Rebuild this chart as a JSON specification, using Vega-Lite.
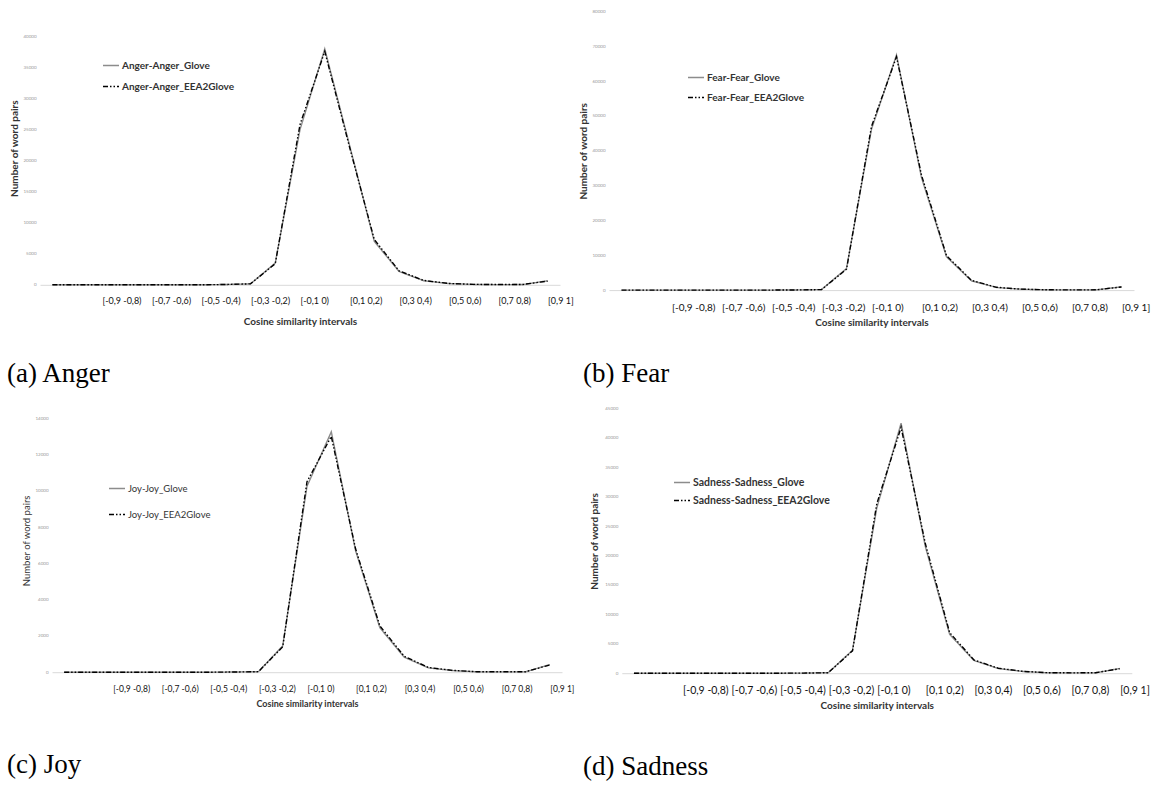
{
"$schema": "https://vega.github.io/schema/vega-lite/v6.json",
"autosize": {"type": "pad"},
"padding": {"left": 7, "top": 8.5, "right": 5, "bottom": 5},
"background": "white",
"bounds": "flush",
"columns": 2,
"spacing": {"row": 118, "column": 47},
"resolve": {"scale": {"color": "independent", "strokeDash": "independent", "x": "independent", "y": "independent"}},
"config": {
 "view": {"stroke": null},
 "font": "Lato",
 "axis": {"grid": false, "ticks": false, "tickSize": 0, "titleFont": "Lato", "labelFont": "Lato", "titleFontWeight": "bold", "titleFontSize": 10, "titleColor": "#333333"},
 "axisX": {"domainColor": "#d9d9d9", "labelAlign": "left", "labelAngle": 0, "labelColor": "#111111", "labelOverlap": false, "labelBound": false, "labelLimit": 0},
 "axisY": {"domain": false, "labelFontSize": 4.5, "labelColor": "#999999", "labelPadding": 4, "format": "d"},
 "legend": {"orient": "none", "symbolType": "stroke", "symbolSize": 256, "symbolStrokeWidth": 1.5, "labelFont": "Lato", "labelFontWeight": "bold", "labelFontSize": 10, "labelColor": "#333333", "padding": 0, "labelOffset": 2},
 "title": {"orient": "bottom", "anchor": "start", "frame": "group", "font": "Liberation Serif", "fontSize": 27, "fontWeight": "normal", "color": "#000000"}
},
"datasets": {
 "anger": [
  {"interval": "[-1]", "series": "Anger-Anger_Glove", "pairs": 0},
  {"interval": "[-1 -0,9)", "series": "Anger-Anger_Glove", "pairs": 0},
  {"interval": "[-0,9 -0,8)", "series": "Anger-Anger_Glove", "pairs": 0},
  {"interval": "[-0,8 -0,7)", "series": "Anger-Anger_Glove", "pairs": 0},
  {"interval": "[-0,7 -0,6)", "series": "Anger-Anger_Glove", "pairs": 0},
  {"interval": "[-0,6 -0,5)", "series": "Anger-Anger_Glove", "pairs": 0},
  {"interval": "[-0,5 -0,4)", "series": "Anger-Anger_Glove", "pairs": 0},
  {"interval": "[-0,4 -0,3)", "series": "Anger-Anger_Glove", "pairs": 50},
  {"interval": "[-0,3 -0,2)", "series": "Anger-Anger_Glove", "pairs": 150},
  {"interval": "[-0,2 -0,1)", "series": "Anger-Anger_Glove", "pairs": 3500},
  {"interval": "[-0,1 0)", "series": "Anger-Anger_Glove", "pairs": 25000},
  {"interval": "[0 0,1)", "series": "Anger-Anger_Glove", "pairs": 38000},
  {"interval": "[0,1 0,2)", "series": "Anger-Anger_Glove", "pairs": 22500},
  {"interval": "[0,2 0,3)", "series": "Anger-Anger_Glove", "pairs": 7000},
  {"interval": "[0,3 0,4)", "series": "Anger-Anger_Glove", "pairs": 2150},
  {"interval": "[0,4 0,5)", "series": "Anger-Anger_Glove", "pairs": 650},
  {"interval": "[0,5 0,6)", "series": "Anger-Anger_Glove", "pairs": 200},
  {"interval": "[0,6 0,7)", "series": "Anger-Anger_Glove", "pairs": 60},
  {"interval": "[0,7 0,8)", "series": "Anger-Anger_Glove", "pairs": 30},
  {"interval": "[0,8 0,9)", "series": "Anger-Anger_Glove", "pairs": 40},
  {"interval": "[0,9 1]", "series": "Anger-Anger_Glove", "pairs": 640},
  {"interval": "[-1]", "series": "Anger-Anger_EEA2Glove", "pairs": 0},
  {"interval": "[-1 -0,9)", "series": "Anger-Anger_EEA2Glove", "pairs": 0},
  {"interval": "[-0,9 -0,8)", "series": "Anger-Anger_EEA2Glove", "pairs": 0},
  {"interval": "[-0,8 -0,7)", "series": "Anger-Anger_EEA2Glove", "pairs": 0},
  {"interval": "[-0,7 -0,6)", "series": "Anger-Anger_EEA2Glove", "pairs": 0},
  {"interval": "[-0,6 -0,5)", "series": "Anger-Anger_EEA2Glove", "pairs": 0},
  {"interval": "[-0,5 -0,4)", "series": "Anger-Anger_EEA2Glove", "pairs": 0},
  {"interval": "[-0,4 -0,3)", "series": "Anger-Anger_EEA2Glove", "pairs": 50},
  {"interval": "[-0,3 -0,2)", "series": "Anger-Anger_EEA2Glove", "pairs": 150},
  {"interval": "[-0,2 -0,1)", "series": "Anger-Anger_EEA2Glove", "pairs": 3400},
  {"interval": "[-0,1 0)", "series": "Anger-Anger_EEA2Glove", "pairs": 25800},
  {"interval": "[0 0,1)", "series": "Anger-Anger_EEA2Glove", "pairs": 37600},
  {"interval": "[0,1 0,2)", "series": "Anger-Anger_EEA2Glove", "pairs": 22200},
  {"interval": "[0,2 0,3)", "series": "Anger-Anger_EEA2Glove", "pairs": 7300},
  {"interval": "[0,3 0,4)", "series": "Anger-Anger_EEA2Glove", "pairs": 2250},
  {"interval": "[0,4 0,5)", "series": "Anger-Anger_EEA2Glove", "pairs": 700},
  {"interval": "[0,5 0,6)", "series": "Anger-Anger_EEA2Glove", "pairs": 220},
  {"interval": "[0,6 0,7)", "series": "Anger-Anger_EEA2Glove", "pairs": 70},
  {"interval": "[0,7 0,8)", "series": "Anger-Anger_EEA2Glove", "pairs": 40},
  {"interval": "[0,8 0,9)", "series": "Anger-Anger_EEA2Glove", "pairs": 50},
  {"interval": "[0,9 1]", "series": "Anger-Anger_EEA2Glove", "pairs": 600}
 ],
 "fear": [
  {"interval": "[-1]", "series": "Fear-Fear_Glove", "pairs": 0},
  {"interval": "[-1 -0,9)", "series": "Fear-Fear_Glove", "pairs": 0},
  {"interval": "[-0,9 -0,8)", "series": "Fear-Fear_Glove", "pairs": 0},
  {"interval": "[-0,8 -0,7)", "series": "Fear-Fear_Glove", "pairs": 0},
  {"interval": "[-0,7 -0,6)", "series": "Fear-Fear_Glove", "pairs": 0},
  {"interval": "[-0,6 -0,5)", "series": "Fear-Fear_Glove", "pairs": 0},
  {"interval": "[-0,5 -0,4)", "series": "Fear-Fear_Glove", "pairs": 0},
  {"interval": "[-0,4 -0,3)", "series": "Fear-Fear_Glove", "pairs": 50},
  {"interval": "[-0,3 -0,2)", "series": "Fear-Fear_Glove", "pairs": 150},
  {"interval": "[-0,2 -0,1)", "series": "Fear-Fear_Glove", "pairs": 6200},
  {"interval": "[-0,1 0)", "series": "Fear-Fear_Glove", "pairs": 46200},
  {"interval": "[0 0,1)", "series": "Fear-Fear_Glove", "pairs": 67500},
  {"interval": "[0,1 0,2)", "series": "Fear-Fear_Glove", "pairs": 32300},
  {"interval": "[0,2 0,3)", "series": "Fear-Fear_Glove", "pairs": 9560},
  {"interval": "[0,3 0,4)", "series": "Fear-Fear_Glove", "pairs": 2670},
  {"interval": "[0,4 0,5)", "series": "Fear-Fear_Glove", "pairs": 750},
  {"interval": "[0,5 0,6)", "series": "Fear-Fear_Glove", "pairs": 250},
  {"interval": "[0,6 0,7)", "series": "Fear-Fear_Glove", "pairs": 80},
  {"interval": "[0,7 0,8)", "series": "Fear-Fear_Glove", "pairs": 50},
  {"interval": "[0,8 0,9)", "series": "Fear-Fear_Glove", "pairs": 70},
  {"interval": "[0,9 1]", "series": "Fear-Fear_Glove", "pairs": 950},
  {"interval": "[-1]", "series": "Fear-Fear_EEA2Glove", "pairs": 0},
  {"interval": "[-1 -0,9)", "series": "Fear-Fear_EEA2Glove", "pairs": 0},
  {"interval": "[-0,9 -0,8)", "series": "Fear-Fear_EEA2Glove", "pairs": 0},
  {"interval": "[-0,8 -0,7)", "series": "Fear-Fear_EEA2Glove", "pairs": 0},
  {"interval": "[-0,7 -0,6)", "series": "Fear-Fear_EEA2Glove", "pairs": 0},
  {"interval": "[-0,6 -0,5)", "series": "Fear-Fear_EEA2Glove", "pairs": 0},
  {"interval": "[-0,5 -0,4)", "series": "Fear-Fear_EEA2Glove", "pairs": 0},
  {"interval": "[-0,4 -0,3)", "series": "Fear-Fear_EEA2Glove", "pairs": 50},
  {"interval": "[-0,3 -0,2)", "series": "Fear-Fear_EEA2Glove", "pairs": 150},
  {"interval": "[-0,2 -0,1)", "series": "Fear-Fear_EEA2Glove", "pairs": 6000},
  {"interval": "[-0,1 0)", "series": "Fear-Fear_EEA2Glove", "pairs": 47000},
  {"interval": "[0 0,1)", "series": "Fear-Fear_EEA2Glove", "pairs": 67000},
  {"interval": "[0,1 0,2)", "series": "Fear-Fear_EEA2Glove", "pairs": 33000},
  {"interval": "[0,2 0,3)", "series": "Fear-Fear_EEA2Glove", "pairs": 9900},
  {"interval": "[0,3 0,4)", "series": "Fear-Fear_EEA2Glove", "pairs": 2800},
  {"interval": "[0,4 0,5)", "series": "Fear-Fear_EEA2Glove", "pairs": 800},
  {"interval": "[0,5 0,6)", "series": "Fear-Fear_EEA2Glove", "pairs": 270},
  {"interval": "[0,6 0,7)", "series": "Fear-Fear_EEA2Glove", "pairs": 90},
  {"interval": "[0,7 0,8)", "series": "Fear-Fear_EEA2Glove", "pairs": 60},
  {"interval": "[0,8 0,9)", "series": "Fear-Fear_EEA2Glove", "pairs": 80},
  {"interval": "[0,9 1]", "series": "Fear-Fear_EEA2Glove", "pairs": 900}
 ],
 "joy": [
  {"interval": "[-1]", "series": "Joy-Joy_Glove", "pairs": 0},
  {"interval": "[-1 -0,9)", "series": "Joy-Joy_Glove", "pairs": 0},
  {"interval": "[-0,9 -0,8)", "series": "Joy-Joy_Glove", "pairs": 0},
  {"interval": "[-0,8 -0,7)", "series": "Joy-Joy_Glove", "pairs": 0},
  {"interval": "[-0,7 -0,6)", "series": "Joy-Joy_Glove", "pairs": 0},
  {"interval": "[-0,6 -0,5)", "series": "Joy-Joy_Glove", "pairs": 0},
  {"interval": "[-0,5 -0,4)", "series": "Joy-Joy_Glove", "pairs": 0},
  {"interval": "[-0,4 -0,3)", "series": "Joy-Joy_Glove", "pairs": 10},
  {"interval": "[-0,3 -0,2)", "series": "Joy-Joy_Glove", "pairs": 30},
  {"interval": "[-0,2 -0,1)", "series": "Joy-Joy_Glove", "pairs": 1450},
  {"interval": "[-0,1 0)", "series": "Joy-Joy_Glove", "pairs": 10250},
  {"interval": "[0 0,1)", "series": "Joy-Joy_Glove", "pairs": 13250},
  {"interval": "[0,1 0,2)", "series": "Joy-Joy_Glove", "pairs": 6700},
  {"interval": "[0,2 0,3)", "series": "Joy-Joy_Glove", "pairs": 2450},
  {"interval": "[0,3 0,4)", "series": "Joy-Joy_Glove", "pairs": 830},
  {"interval": "[0,4 0,5)", "series": "Joy-Joy_Glove", "pairs": 240},
  {"interval": "[0,5 0,6)", "series": "Joy-Joy_Glove", "pairs": 90},
  {"interval": "[0,6 0,7)", "series": "Joy-Joy_Glove", "pairs": 20},
  {"interval": "[0,7 0,8)", "series": "Joy-Joy_Glove", "pairs": 20},
  {"interval": "[0,8 0,9)", "series": "Joy-Joy_Glove", "pairs": 20},
  {"interval": "[0,9 1]", "series": "Joy-Joy_Glove", "pairs": 420},
  {"interval": "[-1]", "series": "Joy-Joy_EEA2Glove", "pairs": 0},
  {"interval": "[-1 -0,9)", "series": "Joy-Joy_EEA2Glove", "pairs": 0},
  {"interval": "[-0,9 -0,8)", "series": "Joy-Joy_EEA2Glove", "pairs": 0},
  {"interval": "[-0,8 -0,7)", "series": "Joy-Joy_EEA2Glove", "pairs": 0},
  {"interval": "[-0,7 -0,6)", "series": "Joy-Joy_EEA2Glove", "pairs": 0},
  {"interval": "[-0,6 -0,5)", "series": "Joy-Joy_EEA2Glove", "pairs": 0},
  {"interval": "[-0,5 -0,4)", "series": "Joy-Joy_EEA2Glove", "pairs": 0},
  {"interval": "[-0,4 -0,3)", "series": "Joy-Joy_EEA2Glove", "pairs": 10},
  {"interval": "[-0,3 -0,2)", "series": "Joy-Joy_EEA2Glove", "pairs": 30},
  {"interval": "[-0,2 -0,1)", "series": "Joy-Joy_EEA2Glove", "pairs": 1400},
  {"interval": "[-0,1 0)", "series": "Joy-Joy_EEA2Glove", "pairs": 10500},
  {"interval": "[0 0,1)", "series": "Joy-Joy_EEA2Glove", "pairs": 13000},
  {"interval": "[0,1 0,2)", "series": "Joy-Joy_EEA2Glove", "pairs": 6800},
  {"interval": "[0,2 0,3)", "series": "Joy-Joy_EEA2Glove", "pairs": 2550},
  {"interval": "[0,3 0,4)", "series": "Joy-Joy_EEA2Glove", "pairs": 880},
  {"interval": "[0,4 0,5)", "series": "Joy-Joy_EEA2Glove", "pairs": 260},
  {"interval": "[0,5 0,6)", "series": "Joy-Joy_EEA2Glove", "pairs": 100},
  {"interval": "[0,6 0,7)", "series": "Joy-Joy_EEA2Glove", "pairs": 25},
  {"interval": "[0,7 0,8)", "series": "Joy-Joy_EEA2Glove", "pairs": 25},
  {"interval": "[0,8 0,9)", "series": "Joy-Joy_EEA2Glove", "pairs": 25},
  {"interval": "[0,9 1]", "series": "Joy-Joy_EEA2Glove", "pairs": 400}
 ],
 "sadness": [
  {"interval": "[-1]", "series": "Sadness-Sadness_Glove", "pairs": 0},
  {"interval": "[-1 -0,9)", "series": "Sadness-Sadness_Glove", "pairs": 0},
  {"interval": "[-0,9 -0,8)", "series": "Sadness-Sadness_Glove", "pairs": 0},
  {"interval": "[-0,8 -0,7)", "series": "Sadness-Sadness_Glove", "pairs": 0},
  {"interval": "[-0,7 -0,6)", "series": "Sadness-Sadness_Glove", "pairs": 0},
  {"interval": "[-0,6 -0,5)", "series": "Sadness-Sadness_Glove", "pairs": 0},
  {"interval": "[-0,5 -0,4)", "series": "Sadness-Sadness_Glove", "pairs": 0},
  {"interval": "[-0,4 -0,3)", "series": "Sadness-Sadness_Glove", "pairs": 20},
  {"interval": "[-0,3 -0,2)", "series": "Sadness-Sadness_Glove", "pairs": 80},
  {"interval": "[-0,2 -0,1)", "series": "Sadness-Sadness_Glove", "pairs": 3900},
  {"interval": "[-0,1 0)", "series": "Sadness-Sadness_Glove", "pairs": 28100},
  {"interval": "[0 0,1)", "series": "Sadness-Sadness_Glove", "pairs": 42500},
  {"interval": "[0,1 0,2)", "series": "Sadness-Sadness_Glove", "pairs": 21500},
  {"interval": "[0,2 0,3)", "series": "Sadness-Sadness_Glove", "pairs": 6600},
  {"interval": "[0,3 0,4)", "series": "Sadness-Sadness_Glove", "pairs": 2160},
  {"interval": "[0,4 0,5)", "series": "Sadness-Sadness_Glove", "pairs": 800},
  {"interval": "[0,5 0,6)", "series": "Sadness-Sadness_Glove", "pairs": 300},
  {"interval": "[0,6 0,7)", "series": "Sadness-Sadness_Glove", "pairs": 80},
  {"interval": "[0,7 0,8)", "series": "Sadness-Sadness_Glove", "pairs": 50},
  {"interval": "[0,8 0,9)", "series": "Sadness-Sadness_Glove", "pairs": 60},
  {"interval": "[0,9 1]", "series": "Sadness-Sadness_Glove", "pairs": 800},
  {"interval": "[-1]", "series": "Sadness-Sadness_EEA2Glove", "pairs": 0},
  {"interval": "[-1 -0,9)", "series": "Sadness-Sadness_EEA2Glove", "pairs": 0},
  {"interval": "[-0,9 -0,8)", "series": "Sadness-Sadness_EEA2Glove", "pairs": 0},
  {"interval": "[-0,8 -0,7)", "series": "Sadness-Sadness_EEA2Glove", "pairs": 0},
  {"interval": "[-0,7 -0,6)", "series": "Sadness-Sadness_EEA2Glove", "pairs": 0},
  {"interval": "[-0,6 -0,5)", "series": "Sadness-Sadness_EEA2Glove", "pairs": 0},
  {"interval": "[-0,5 -0,4)", "series": "Sadness-Sadness_EEA2Glove", "pairs": 0},
  {"interval": "[-0,4 -0,3)", "series": "Sadness-Sadness_EEA2Glove", "pairs": 20},
  {"interval": "[-0,3 -0,2)", "series": "Sadness-Sadness_EEA2Glove", "pairs": 80},
  {"interval": "[-0,2 -0,1)", "series": "Sadness-Sadness_EEA2Glove", "pairs": 3800},
  {"interval": "[-0,1 0)", "series": "Sadness-Sadness_EEA2Glove", "pairs": 28800},
  {"interval": "[0 0,1)", "series": "Sadness-Sadness_EEA2Glove", "pairs": 41800},
  {"interval": "[0,1 0,2)", "series": "Sadness-Sadness_EEA2Glove", "pairs": 22000},
  {"interval": "[0,2 0,3)", "series": "Sadness-Sadness_EEA2Glove", "pairs": 6900},
  {"interval": "[0,3 0,4)", "series": "Sadness-Sadness_EEA2Glove", "pairs": 2250},
  {"interval": "[0,4 0,5)", "series": "Sadness-Sadness_EEA2Glove", "pairs": 850},
  {"interval": "[0,5 0,6)", "series": "Sadness-Sadness_EEA2Glove", "pairs": 320},
  {"interval": "[0,6 0,7)", "series": "Sadness-Sadness_EEA2Glove", "pairs": 90},
  {"interval": "[0,7 0,8)", "series": "Sadness-Sadness_EEA2Glove", "pairs": 60},
  {"interval": "[0,8 0,9)", "series": "Sadness-Sadness_EEA2Glove", "pairs": 70},
  {"interval": "[0,9 1]", "series": "Sadness-Sadness_EEA2Glove", "pairs": 760}
 ]
},
"concat": [
   {
    "data": {"name": "anger"},
    "width": 522, "height": 278.6,
    "title": {"text": "(a) Anger", "dx": -33, "offset": 34},
    "mark": {"type": "line", "strokeWidth": 1.4},
    "encoding": {
     "x": {"field": "interval", "type": "ordinal", "sort": null,
      "scale": {"type": "point", "padding": 0.5, "range": [0, 520], "domain": ["[-1]","[-1 -0,9)","[-0,9 -0,8)","[-0,8 -0,7)","[-0,7 -0,6)","[-0,6 -0,5)","[-0,5 -0,4)","[-0,4 -0,3)","[-0,3 -0,2)","[-0,2 -0,1)","[-0,1 0)","[0 0,1)","[0,1 0,2)","[0,2 0,3)","[0,3 0,4)","[0,4 0,5)","[0,5 0,6)","[0,6 0,7)","[0,7 0,8)","[0,8 0,9)","[0,9 1]"]},
      "axis": {"title": "Cosine similarity intervals", "values": ["[-0,9 -0,8)","[-0,7 -0,6)","[-0,5 -0,4)","[-0,3 -0,2)","[-0,1 0)","[0,1 0,2)","[0,3 0,4)","[0,5 0,6)","[0,7 0,8)","[0,9 1]"], "labelFontSize": 9, "labelPadding": 12, "titlePadding": 11, "offset": -5.3}},
     "y": {"field": "pairs", "type": "quantitative", "scale": {"domain": [0, 44030], "nice": false, "range": [273.3, 0]},
      "axis": {"title": "Number of word pairs", "values": [0,5000,10000,15000,20000,25000,30000,35000,40000], "titlePadding": 3}},
     "color": {"field": "series", "type": "nominal", "scale": {"domain": ["Anger-Anger_Glove","Anger-Anger_EEA2Glove"], "range": ["#8c8c8c","#000000"]},
      "legend": {"title": null, "legendX": 62, "legendY": 45, "labelFontSize": 10, "rowPadding": 7}},
     "strokeDash": {"field": "series", "type": "nominal", "scale": {"domain": ["Anger-Anger_Glove","Anger-Anger_EEA2Glove"], "range": [[1,0],[5,2,1.5,2,1.5,2]]},
      "legend": {"title": null, "legendX": 62, "legendY": 45, "labelFontSize": 10, "rowPadding": 7}}
    }
   },
   {
    "data": {"name": "fear"},
    "width": 525, "height": 278.6,
    "title": {"text": "(b) Fear", "dx": -26, "offset": 34},
    "mark": {"type": "line", "strokeWidth": 1.4},
    "encoding": {
     "x": {"field": "interval", "type": "ordinal", "sort": null,
      "scale": {"type": "point", "padding": 0.5, "domain": ["[-1]","[-1 -0,9)","[-0,9 -0,8)","[-0,8 -0,7)","[-0,7 -0,6)","[-0,6 -0,5)","[-0,5 -0,4)","[-0,4 -0,3)","[-0,3 -0,2)","[-0,2 -0,1)","[-0,1 0)","[0 0,1)","[0,1 0,2)","[0,2 0,3)","[0,3 0,4)","[0,4 0,5)","[0,5 0,6)","[0,6 0,7)","[0,7 0,8)","[0,8 0,9)","[0,9 1]"]},
      "axis": {"title": "Cosine similarity intervals", "values": ["[-0,9 -0,8)","[-0,7 -0,6)","[-0,5 -0,4)","[-0,3 -0,2)","[-0,1 0)","[0,1 0,2)","[0,3 0,4)","[0,5 0,6)","[0,7 0,8)","[0,9 1]"], "labelFontSize": 10, "labelPadding": 12, "titlePadding": 5}},
     "y": {"field": "pairs", "type": "quantitative", "scale": {"domain": [0, 80000], "nice": false},
      "axis": {"title": "Number of word pairs", "values": [0,10000,20000,30000,40000,50000,60000,70000,80000], "titlePadding": 3}},
     "color": {"field": "series", "type": "nominal", "scale": {"domain": ["Fear-Fear_Glove","Fear-Fear_EEA2Glove"], "range": ["#8c8c8c","#000000"]},
      "legend": {"title": null, "legendX": 78, "legendY": 57, "labelFontSize": 10, "rowPadding": 6}},
     "strokeDash": {"field": "series", "type": "nominal", "scale": {"domain": ["Fear-Fear_Glove","Fear-Fear_EEA2Glove"], "range": [[1,0],[5,2,1.5,2,1.5,2]]},
      "legend": {"title": null, "legendX": 78, "legendY": 57, "labelFontSize": 10, "rowPadding": 6}}
    }
   },
   {
    "data": {"name": "joy"},
    "width": 522, "height": 264.7,
    "title": {"text": "(c) Joy", "dx": -33, "offset": 43},
    "mark": {"type": "line", "strokeWidth": 1.4},
    "encoding": {
     "x": {"field": "interval", "type": "ordinal", "sort": null,
      "scale": {"type": "point", "padding": 0.5, "range": [12, 522], "domain": ["[-1]","[-1 -0,9)","[-0,9 -0,8)","[-0,8 -0,7)","[-0,7 -0,6)","[-0,6 -0,5)","[-0,5 -0,4)","[-0,4 -0,3)","[-0,3 -0,2)","[-0,2 -0,1)","[-0,1 0)","[0 0,1)","[0,1 0,2)","[0,2 0,3)","[0,3 0,4)","[0,4 0,5)","[0,5 0,6)","[0,6 0,7)","[0,7 0,8)","[0,8 0,9)","[0,9 1]"]},
      "axis": {"title": "Cosine similarity intervals", "values": ["[-0,9 -0,8)","[-0,7 -0,6)","[-0,5 -0,4)","[-0,3 -0,2)","[-0,1 0)","[0,1 0,2)","[0,3 0,4)","[0,5 0,6)","[0,7 0,8)","[0,9 1]"], "labelFontSize": 8.5, "labelPadding": 12, "titlePadding": 7, "titleFontSize": 9, "offset": -1}},
     "y": {"field": "pairs", "type": "quantitative", "scale": {"domain": [0, 14535], "nice": false, "range": [263.7, 0]},
      "axis": {"title": "Number of word pairs", "values": [0,2000,4000,6000,8000,10000,12000,14000], "titlePadding": 3, "offset": -12, "titleFontWeight": "normal", "titleFontSize": 9.5}},
     "color": {"field": "series", "type": "nominal", "scale": {"domain": ["Joy-Joy_Glove","Joy-Joy_EEA2Glove"], "range": ["#8c8c8c","#000000"]},
      "legend": {"title": null, "legendX": 68, "legendY": 71, "labelFontSize": 9.5, "labelFontWeight": "normal", "rowPadding": 12}},
     "strokeDash": {"field": "series", "type": "nominal", "scale": {"domain": ["Joy-Joy_Glove","Joy-Joy_EEA2Glove"], "range": [[1,0],[5,2,1.5,2,1.5,2]]},
      "legend": {"title": null, "legendX": 68, "legendY": 71, "labelFontSize": 9.5, "labelFontWeight": "normal", "rowPadding": 12}}
    }
   },
   {
    "data": {"name": "sadness"},
    "width": 522.8, "height": 264.7,
    "title": {"text": "(d) Sadness", "dx": -26, "offset": 43},
    "mark": {"type": "line", "strokeWidth": 1.4},
    "encoding": {
     "x": {"field": "interval", "type": "ordinal", "sort": null,
      "scale": {"type": "point", "padding": 0.5, "range": [12.8, 522.8], "domain": ["[-1]","[-1 -0,9)","[-0,9 -0,8)","[-0,8 -0,7)","[-0,7 -0,6)","[-0,6 -0,5)","[-0,5 -0,4)","[-0,4 -0,3)","[-0,3 -0,2)","[-0,2 -0,1)","[-0,1 0)","[0 0,1)","[0,1 0,2)","[0,2 0,3)","[0,3 0,4)","[0,4 0,5)","[0,5 0,6)","[0,6 0,7)","[0,7 0,8)","[0,8 0,9)","[0,9 1]"]},
      "axis": {"title": "Cosine similarity intervals", "values": ["[-0,9 -0,8)","[-0,7 -0,6)","[-0,5 -0,4)","[-0,3 -0,2)","[-0,1 0)","[0,1 0,2)","[0,3 0,4)","[0,5 0,6)","[0,7 0,8)","[0,9 1]"], "labelFontSize": 10.5, "labelPadding": 12, "titlePadding": 5}},
     "y": {"field": "pairs", "type": "quantitative", "scale": {"domain": [0, 45000], "nice": false},
      "axis": {"title": "Number of word pairs", "values": [0,5000,10000,15000,20000,25000,30000,35000,40000,45000], "titlePadding": 5, "offset": -12.8}},
     "color": {"field": "series", "type": "nominal", "scale": {"domain": ["Sadness-Sadness_Glove","Sadness-Sadness_EEA2Glove"], "range": ["#8c8c8c","#000000"]},
      "legend": {"title": null, "legendX": 64, "legendY": 65, "labelFontSize": 10.5, "rowPadding": 3}},
     "strokeDash": {"field": "series", "type": "nominal", "scale": {"domain": ["Sadness-Sadness_Glove","Sadness-Sadness_EEA2Glove"], "range": [[1,0],[5,2,1.5,2,1.5,2]]},
      "legend": {"title": null, "legendX": 64, "legendY": 65, "labelFontSize": 10.5, "rowPadding": 3}}
    }
   }
]
}
